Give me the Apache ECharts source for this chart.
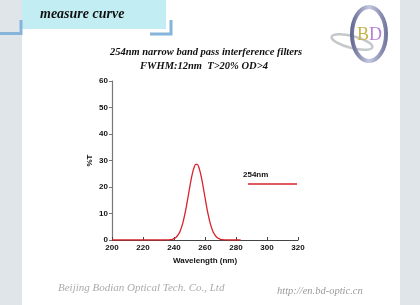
<!DOCTYPE html>
<html><head><meta charset="utf-8">
<script src="https://cdn.jsdelivr.net/npm/echarts@6/dist/echarts.min.js"></script>
<style>html,body{margin:0;padding:0;background:#fff}#c{width:420px;height:305px}</style>
</head><body><div id="c"></div>
<script>
var wavelengths = [200,210,220,230,235,236,237,238,239,240,241,242,243,244,245,246,247,248,249,250,251,252,253,254,255,256,257,258,259,260,261,262,263,264,265,266,267,268,269,270,271,272,273,274,275,280,283];
var transmittance = [0,0,0,0,0.01,0.03,0.08,0.15,0.28,0.5,0.86,1.42,2.26,3.44,5.06,7.15,9.73,12.73,16.04,19.44,22.68,25.45,27.49,28.56,28.56,27.49,25.45,22.68,19.44,16.04,12.73,9.73,7.15,5.06,3.44,2.26,1.42,0.86,0.5,0.28,0.15,0.08,0.03,0.01,0,0,0];
var xTicks = [200,220,240,260,280,300,320];
var yTicks = [0,10,20,30,40,50,60];
var seriesName = '254nm';
var titleLines = ['254nm narrow band pass interference filters', 'FWHM:12nm  T>20% OD>4'];

var chart = echarts.init(document.getElementById('c'), null, {renderer:'canvas'});
var pts = wavelengths.map(function(w,i){return [w, transmittance[i]];});
var lblFont = {fontFamily:'Liberation Sans, Arial', fontWeight:'bold', fontSize:8, color:'#111'};
chart.setOption({
  animation:false,
  backgroundColor:'#fff',
  grid:{left:112, right:122, top:81, bottom:65},
  xAxis:{type:'value', min:xTicks[0], max:xTicks[xTicks.length-1], interval:20,
    name:'Wavelength (nm)', nameLocation:'middle', nameGap:13,
    nameTextStyle:lblFont,
    axisLine:{show:true, onZero:false, lineStyle:{color:'#444', width:1}},
    axisTick:{show:true, inside:true, length:3, lineStyle:{color:'#444'}},
    axisLabel:Object.assign({margin:4}, lblFont),
    splitLine:{show:false}},
  yAxis:{type:'value', min:yTicks[0], max:yTicks[yTicks.length-1], interval:10,
    name:'%T', nameLocation:'middle', nameGap:18, nameRotate:90,
    nameTextStyle:lblFont,
    axisLine:{show:true, lineStyle:{color:'#777', width:1.2}},
    axisTick:{show:true, length:3, lineStyle:{color:'#777'}},
    axisLabel:Object.assign({margin:4}, lblFont),
    splitLine:{show:false}},
  series:[{name:seriesName, type:'line', data:pts, showSymbol:false, smooth:0.3,
    lineStyle:{color:'#d8232a', width:1.3}, itemStyle:{color:'#d8232a'}, z:3}],
  graphic:[
    {type:'rect', shape:{x:0,y:0,width:22,height:305}, style:{fill:'#dfe5e8'}, z:-10},
    {type:'rect', shape:{x:400,y:0,width:20,height:305}, style:{fill:'#dfe5e8'}, z:-10},
    {type:'rect', shape:{x:22,y:0,width:144,height:29}, style:{fill:'#c2eef3'}, z:-5},
    {type:'polyline', shape:{points:[[0,33.5],[21,33.5],[21,20]]}, style:{stroke:'#86b4da', lineWidth:3, fill:null}},
    {type:'polyline', shape:{points:[[150,34],[171,34],[171,20]]}, style:{stroke:'#86b4da', lineWidth:3, fill:null}},
    {type:'text', left:40, top:7, style:{text:'measure curve', font:'italic bold 14px "Liberation Serif", "Times New Roman", serif', fill:'#111'}},
    {type:'text', x:206, y:52, style:{text:titleLines[0], font:'italic bold 10.5px "Liberation Serif", "Times New Roman", serif', fill:'#111', align:'center', verticalAlign:'middle'}},
    {type:'text', x:204, y:66, style:{text:titleLines[1], font:'italic bold 10.5px "Liberation Serif", "Times New Roman", serif', fill:'#111', align:'center', verticalAlign:'middle'}},
    {type:'text', x:243, y:175, style:{text:seriesName, font:'bold 8px "Liberation Sans", Arial', fill:'#111', verticalAlign:'middle'}},
    {type:'line', shape:{x1:248,y1:184,x2:297,y2:184}, style:{stroke:'#d8232a', lineWidth:1.3}},
    {type:'ellipse', shape:{cx:352,cy:42,rx:21,ry:6}, rotation:-0.25, originX:352, originY:42, style:{stroke:'#c5c9cc', lineWidth:2.5, fill:null}},
    {type:'ellipse', shape:{cx:369,cy:34,rx:17,ry:27}, style:{stroke:new echarts.graphic.LinearGradient(0,0,1,0,[{offset:0,color:'#5a5f8a'},{offset:0.5,color:'#c5c8e0'},{offset:1,color:'#6a6e98'}]), lineWidth:4, fill:null}},
    {type:'text', x:369, y:35, style:{text:'B', font:'18px "Liberation Serif", serif', align:'right', verticalAlign:'middle', fill:'#c4b44c'}},
    {type:'text', x:369, y:35, style:{text:'D', font:'18px "Liberation Serif", serif', align:'left', verticalAlign:'middle', fill:'#b77fd8'}},
    {type:'text', x:58, y:288, style:{text:'Beijing Bodian Optical Tech. Co., Ltd', font:'italic 11px "Liberation Serif", serif', fill:'#ababab', verticalAlign:'middle'}},
    {type:'text', x:277, y:291, style:{text:'http://en.bd-optic.cn', font:'italic 10.5px "Liberation Serif", serif', fill:'#9a9a9a', verticalAlign:'middle'}}
  ]
});
</script></body></html>
